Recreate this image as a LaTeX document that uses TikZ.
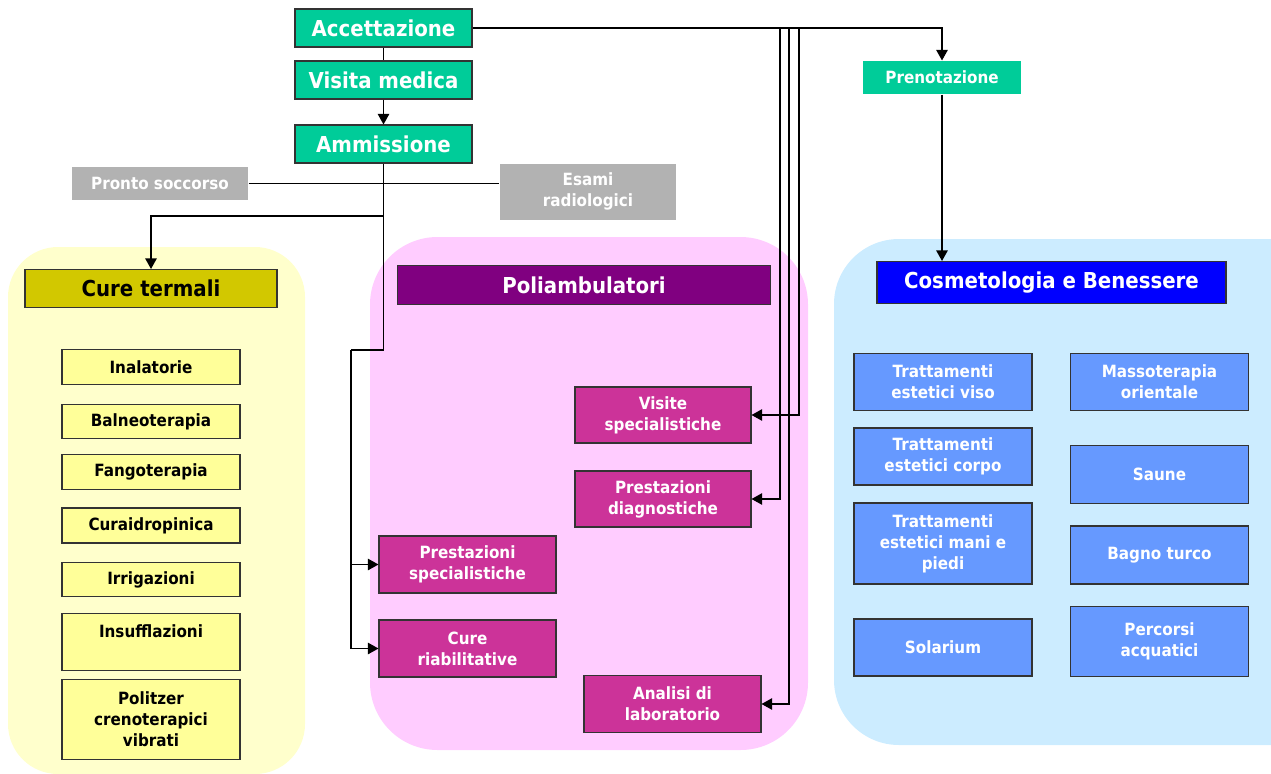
\documentclass[tikz,border=0pt]{standalone}
\usepackage{fontspec}
\setmainfont{DejaVu Sans}[FakeStretch=0.9]
\usepackage{xcolor}
\usetikzlibrary{positioning,calc,arrows.meta}

\definecolor{greenbox}{HTML}{00CC99}
\definecolor{graybox}{HTML}{B2B2B2}
\definecolor{olivebox}{HTML}{D2C800}
\definecolor{yellowitem}{HTML}{FFFF99}
\definecolor{yellowarea}{HTML}{FFFFCC}
\definecolor{purplebox}{HTML}{800080}
\definecolor{magentaitem}{HTML}{CC3399}
\definecolor{pinkarea}{HTML}{FFCCFF}
\definecolor{bluebox}{HTML}{0000FF}
\definecolor{blueitem}{HTML}{6699FF}
\definecolor{bluearea}{HTML}{CCECFF}

\newdimen\pxl \pxl=0.02cm

\tikzset{
  box/.style={draw=black!80, line width=0.6pt, inner sep=0pt, align=center, text=white},
  bigbox/.style={box, font=\fontsize{12.5}{15}\selectfont\bfseries},
  smallbox/.style={box, font=\fontsize{9.6}{12}\selectfont\bfseries},
  termitem/.style={smallbox, fill=yellowitem, text=black, minimum width=178\pxl},
  poliitem/.style={smallbox, fill=magentaitem, minimum width=177\pxl, minimum height=57\pxl},
  cosmitem/.style={smallbox, fill=blueitem, minimum width=178\pxl},
  link/.style={line width=0.7pt},
}

\begin{document}
\begin{tikzpicture}[x=0.02cm, y=-0.02cm, >={Triangle[length=6pt,width=6.5pt]}]
  \useasboundingbox (0,0) rectangle (1271,774);

  % Areas
  \fill[yellowarea, rounded corners=1cm] (8,247) rectangle (305,774);
  \fill[pinkarea, rounded corners=1.35cm] (370,237) rectangle (808,750);
  \fill[bluearea, rounded corners=1.3cm] (834,239) rectangle (1340,745);

  % Entrance
  \node[bigbox, fill=greenbox, minimum width=177\pxl, minimum height=38\pxl] (acc) at (383.5,28) {Accettazione};
  \node[bigbox, fill=greenbox, minimum width=177\pxl, minimum height=38\pxl] (vis) at (383.5,80) {Visita medica};
  \node[bigbox, fill=greenbox, minimum width=177\pxl, minimum height=38\pxl] (amm) at (383.5,144) {Ammissione};
  \node[smallbox, draw=none, fill=greenbox, minimum width=158\pxl, minimum height=33\pxl] (pren) at (942,77.5) {Prenotazione};

  \node[smallbox, draw=none, fill=graybox, minimum width=176\pxl, minimum height=33\pxl] (pronto) at (160,183.5) {Pronto soccorso};
  \node[smallbox, draw=none, fill=graybox, minimum width=176\pxl, minimum height=56\pxl] (esami) at (588,191.5) {Esami\\radiologici};

  % Cure termali
  \node[bigbox, fill=olivebox, text=black, minimum width=252\pxl, minimum height=38\pxl] (cureterm) at (151,288.5) {Cure termali};
  \node[termitem, minimum height=35\pxl] (inal) at (151,367) {Inalatorie};
  \node[termitem, minimum height=34\pxl] (baln) at (151,421.5) {Balneoterapia};
  \node[termitem, minimum height=35\pxl] (fango) at (151,472) {Fangoterapia};
  \node[termitem, minimum height=35\pxl] (curaid) at (151,525.5) {Curaidropinica};
  \node[termitem, minimum height=34\pxl] (irrig) at (151,579.5) {Irrigazioni};
  \node[termitem, minimum height=57\pxl] (insuf) at (151,642) {Insufflazioni\\\mbox{}};
  \node[termitem, minimum height=80\pxl] (politz) at (151,719.5) {Politzer\\crenoterapici\\vibrati};

  % Poliambulatori
  \node[bigbox, fill=purplebox, minimum width=373\pxl, minimum height=39\pxl] (poli) at (584,285) {Poliambulatori};
  \node[poliitem, minimum width=176\pxl, minimum height=56\pxl] (visite) at (663,415) {Visite\\specialistiche};
  \node[poliitem, minimum width=176\pxl, minimum height=56\pxl] (diagn) at (663,499) {Prestazioni\\diagnostiche};
  \node[poliitem] (prestsp) at (467.5,564.5) {Prestazioni\\specialistiche};
  \node[poliitem] (cureri) at (467.5,648.5) {Cure\\riabilitative};
  \node[poliitem] (analisi) at (672.5,704) {Analisi di\\laboratorio};

  % Cosmetologia e Benessere
  \node[bigbox, fill=bluebox, minimum width=349\pxl, minimum height=42\pxl] (cosm) at (1051.5,282.5) {Cosmetologia e Benessere};
  \node[cosmitem, minimum height=57\pxl] (viso) at (943,382) {Trattamenti\\estetici viso};
  \node[cosmitem, minimum height=57\pxl] (corpo) at (943,456.5) {Trattamenti\\estetici corpo};
  \node[cosmitem, minimum height=81\pxl] (mani) at (943,543.5) {Trattamenti\\estetici mani e\\piedi};
  \node[cosmitem, minimum height=57\pxl] (solar) at (943,647.5) {Solarium};
  \node[cosmitem, minimum height=57\pxl] (masso) at (1159.5,382) {Massoterapia\\orientale};
  \node[cosmitem, minimum height=58\pxl] (saune) at (1159.5,474.5) {Saune};
  \node[cosmitem, minimum height=58\pxl] (bagno) at (1159.5,555) {Bagno turco};
  \node[cosmitem, minimum height=70\pxl] (percorsi) at (1159.5,641.5) {Percorsi\\acquatici};

  % Connectors
  \coordinate (tapA) at (780,28);
  \coordinate (tapB) at (789,28);
  \coordinate (tapC) at (799,28);
  \coordinate (split) at (383.5,216);
  \coordinate (hub) at (351,350);

  \draw[link] (acc) -- (vis);
  \draw[link,->] (vis) -- (amm);
  \draw[link,->] (acc.east) -| (pren.north);
  \draw[link,->] (pren.south) -- (pren.south |- cosm.north);
  \draw[link,->] (tapC) |- (visite.east);
  \draw[link,->] (tapA) |- (diagn.east);
  \draw[link,->] (tapB) |- (analisi.east);

  \draw[link] (pronto.east) -- (pronto.east -| esami.west);
  \draw[link] (amm.south) |- (hub);
  \draw[link,->] (split) -| (cureterm.north);
  \draw[link,->] (hub) |- (prestsp.west);
  \draw[link,->] (hub) |- (cureri.west);
\end{tikzpicture}
\end{document}
